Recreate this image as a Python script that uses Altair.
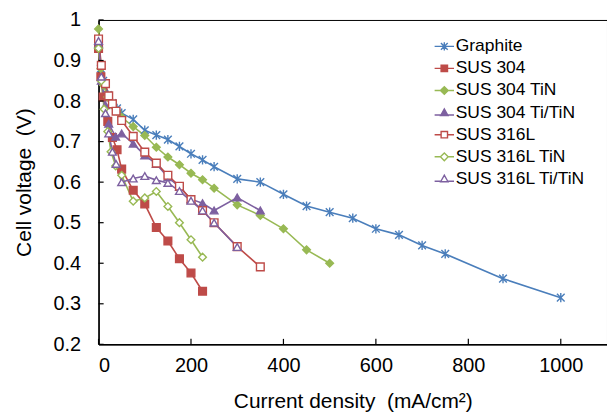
import altair as alt
import pandas as pd

series_names = ["Graphite", "SUS 304", "SUS 304 TiN", "SUS 304 Ti/TiN",
                "SUS 316L", "SUS 316L TiN", "SUS 316L Ti/TiN"]

graphite_x = [0, 5, 10, 20, 30, 40, 50, 75, 100, 125, 150, 175, 200, 225, 250, 300, 350, 400, 450, 500, 550, 600, 650, 700, 750, 875, 1000]
graphite_y = [0.95, 0.88, 0.85, 0.815, 0.795, 0.782, 0.77, 0.755, 0.728, 0.716, 0.705, 0.688, 0.67, 0.655, 0.638, 0.608, 0.6, 0.57, 0.541, 0.526, 0.511, 0.485, 0.47, 0.444, 0.423, 0.362, 0.315]

sus304_x = [0, 5, 10, 20, 30, 40, 50, 75, 100, 125, 150, 175, 200, 225]
sus304_y = [0.93, 0.86, 0.81, 0.75, 0.71, 0.68, 0.632, 0.58, 0.546, 0.488, 0.455, 0.411, 0.376, 0.331]

sus304tin_x = [0, 5, 10, 20, 30, 40, 50, 75, 100, 125, 150, 175, 200, 225, 250, 300, 350, 400, 450, 500]
sus304tin_y = [0.978, 0.88, 0.84, 0.81, 0.79, 0.775, 0.76, 0.737, 0.715, 0.686, 0.662, 0.643, 0.622, 0.606, 0.585, 0.544, 0.518, 0.485, 0.433, 0.4]

sus304titin_x = [0, 6, 15, 22, 37, 50, 75, 100, 125, 150, 175, 200, 225, 250, 300, 350]
sus304titin_y = [0.94, 0.85, 0.79, 0.744, 0.712, 0.72, 0.695, 0.666, 0.645, 0.612, 0.588, 0.558, 0.548, 0.53, 0.562, 0.53]

sus316l_x = [0, 6, 15, 22, 30, 38, 50, 75, 100, 125, 150, 175, 200, 225, 250, 300, 350]
sus316l_y = [0.953, 0.888, 0.843, 0.813, 0.793, 0.775, 0.752, 0.713, 0.674, 0.647, 0.617, 0.59, 0.557, 0.53, 0.5, 0.441, 0.391]

sus316ltin_x = [0, 6, 12, 20, 27, 37, 50, 75, 100, 125, 150, 175, 200, 225]
sus316ltin_y = [0.93, 0.85, 0.78, 0.725, 0.675, 0.64, 0.617, 0.553, 0.561, 0.577, 0.54, 0.5, 0.458, 0.415]

sus316ltitin_x = [0, 6, 15, 22, 30, 38, 50, 75, 100, 125, 150, 175, 200, 225, 250, 300]
sus316ltitin_y = [0.948, 0.86, 0.77, 0.72, 0.675, 0.645, 0.6, 0.609, 0.615, 0.605, 0.598, 0.578, 0.554, 0.53, 0.5, 0.44]

x_ticks = [0, 200, 400, 600, 800, 1000]
y_ticks = [0.2, 0.3, 0.4, 0.5, 0.6, 0.7, 0.8, 0.9, 1.0]

line_colors = ["#4A7EBB", "#BE4B48", "#98B954", "#7D60A0", "#BE4B48", "#98B954", "#7D60A0"]
fill_colors = ["#4A7EBB", "#BE4B48", "#98B954", "#7D60A0", "#FFFFFF", "#FFFFFF", "#FFFFFF"]

asterisk = "M-1,-1L1,1M-1,1L1,-1M0,-1.2L0,1.2"
marker_shapes = [asterisk, "square", "diamond", "triangle-up", "square", "diamond", "triangle-up"]

# legend symbols: short line with the marker in the middle
legend_shapes = [
    "M-1,0L1,0M-0.35,-0.35L0.35,0.35M-0.35,0.35L0.35,-0.35M0,-0.42L0,0.42",
    "M-1,0L-0.33,0M0.33,0L1,0M-0.33,-0.33L0.33,-0.33L0.33,0.33L-0.33,0.33Z",
    "M-1,0L-0.4,0M0.4,0L1,0M-0.4,0L0,-0.4L0.4,0L0,0.4Z",
    "M-1,0.25L-0.38,0.25M0.38,0.25L1,0.25M-0.38,0.3L0,-0.38L0.38,0.3Z",
    "M-1,0L-0.33,0M0.33,0L1,0M-0.33,-0.33L0.33,-0.33L0.33,0.33L-0.33,0.33Z",
    "M-1,0L-0.4,0M0.4,0L1,0M-0.4,0L0,-0.4L0.4,0L0,0.4Z",
    "M-1,0.25L-0.38,0.25M0.38,0.25L1,0.25M-0.38,0.3L0,-0.38L0.38,0.3Z",
]

all_x = [graphite_x, sus304_x, sus304tin_x, sus304titin_x, sus316l_x, sus316ltin_x, sus316ltitin_x]
all_y = [graphite_y, sus304_y, sus304tin_y, sus304titin_y, sus316l_y, sus316ltin_y, sus316ltitin_y]

rows = []
for name, xs, ys in zip(series_names, all_x, all_y):
    for i, (xv, yv) in enumerate(zip(xs, ys)):
        rows.append({"series": name, "entry": name, "i": i, "current": xv, "voltage": yv})
df = pd.DataFrame(rows)

FONT = "Liberation Sans"

xscale = alt.Scale(domain=[0, 1100], nice=False, zero=False)
yscale = alt.Scale(domain=[0.2, 1.0], nice=False, zero=False)

x_enc = alt.X("current:Q", scale=xscale,
              axis=alt.Axis(values=x_ticks, format="d", title="Current density\u00a0 (mA/cm²)", grid=False,
                            ticks=False, labelPadding=11, titlePadding=15))
y_enc = alt.Y("voltage:Q", scale=yscale,
              axis=alt.Axis(values=y_ticks, format=".1~f", title="Cell voltage\u00a0 (V)", grid=False,
                            ticks=False, labelPadding=18, titlePadding=19))

base = alt.Chart(df)

lines = base.mark_line(strokeWidth=1.6).encode(
    x=x_enc, y=y_enc,
    stroke=alt.Stroke("series:N", scale=alt.Scale(domain=series_names, range=line_colors), legend=None),
    detail="series:N",
    order="i:Q",
)

points = base.mark_point(filled=False, opacity=1, strokeWidth=1.4, size=60).encode(
    x="current:Q", y="voltage:Q",
    stroke=alt.Stroke("series:N", scale=alt.Scale(domain=series_names, range=line_colors), legend=None),
    fill=alt.Fill("series:N", scale=alt.Scale(domain=series_names, range=fill_colors), legend=None),
    shape=alt.Shape("series:N", scale=alt.Scale(domain=series_names, range=marker_shapes), legend=None),
)

legend_cfg = alt.Legend(title=None, orient="none", legendX=337, legendY=16,
                        labelFont=FONT, labelFontSize=17.5, labelColor="black",
                        symbolSize=380, symbolStrokeWidth=1.4, rowPadding=3.2,
                        labelOffset=1, symbolOffset=0, padding=0)

legend_layer = base.transform_filter("datum.i < 0").mark_point(filled=False, opacity=1).encode(
    x="current:Q", y="voltage:Q",
    stroke=alt.Stroke("entry:N", scale=alt.Scale(domain=series_names, range=line_colors), legend=legend_cfg),
    fill=alt.Fill("entry:N", scale=alt.Scale(domain=series_names, range=fill_colors), legend=legend_cfg),
    shape=alt.Shape("entry:N", scale=alt.Scale(domain=series_names, range=legend_shapes), legend=legend_cfg),
)

ytick_df = pd.DataFrame({"v": y_ticks})
xtick_df = pd.DataFrame({"v": x_ticks})

yticks = alt.Chart(ytick_df).mark_rule(color="black", strokeWidth=1.2).encode(
    y=alt.Y("v:Q", scale=yscale),
    x=alt.datum(0), x2=alt.datum(11),
)
xticks = alt.Chart(xtick_df).mark_rule(color="black", strokeWidth=1.2).encode(
    x=alt.X("v:Q", scale=xscale),
    y=alt.datum(0.2), y2=alt.datum(0.2135),
)

chart = alt.layer(lines, points, legend_layer, yticks, xticks).resolve_scale(
    stroke="independent", fill="independent", shape="independent"
).properties(
    width=511, height=326,
    padding={"left": 91, "top": 11, "right": 0, "bottom": 71},
    autosize=alt.AutoSizeParams(type="none"),
).configure_view(
    stroke="black", strokeWidth=1
).configure_axis(
    domainColor="black", domainWidth=1.5,
    labelFont=FONT, labelFontSize=20, labelColor="black",
    titleFont=FONT, titleFontSize=21, titleFontWeight="normal", titleColor="black",
)

chart.save("out.html", embed_options={"renderer": "svg", "actions": False})
